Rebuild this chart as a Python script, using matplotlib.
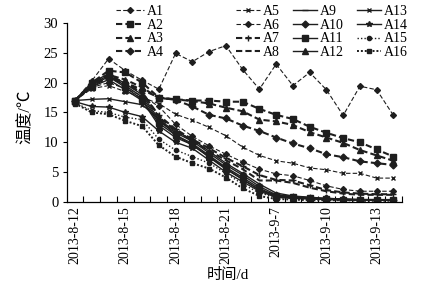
import matplotlib
matplotlib.use('Agg')
import matplotlib.pyplot as plt
import numpy as np

plt.rcParams['font.family'] = ['Liberation Serif', 'Noto Sans CJK SC']
plt.rcParams['axes.unicode_minus'] = False

# dates (categorical x axis)
dates = ['2013-8-12', '2013-8-13', '2013-8-14', '2013-8-15', '2013-8-16', '2013-8-17',
         '2013-8-18', '2013-8-19', '2013-8-20', '2013-8-21', '2013-8-22', '2013-8-23',
         '2013-9-7', '2013-9-8', '2013-9-9', '2013-9-10', '2013-9-11', '2013-9-12',
         '2013-9-13', '2013-9-14']

# temperatures (deg C)
a1 = [17.0, 20.3, 24.0, 22.0, 20.4, 18.9, 24.9, 23.5, 25.2, 26.2, 22.2, 18.9, 23.1, 19.5, 21.7, 18.8, 14.5, 19.4, 18.8, 14.5]
a2 = [17.0, 20.0, 22.0, 21.7, 20.0, 17.5, 17.2, 17.0, 17.0, 16.8, 16.8, 15.6, 14.6, 13.9, 12.6, 11.6, 10.7, 10.0, 8.8, 7.6]
a3 = [17.0, 19.8, 21.3, 20.5, 19.2, 17.4, 17.2, 16.9, 16.5, 15.8, 15.2, 13.8, 13.5, 12.9, 11.7, 10.8, 9.9, 8.7, 7.8, 6.9]
a4 = [17.0, 19.5, 21.0, 20.0, 18.8, 17.5, 17.1, 16.0, 14.6, 14.0, 12.8, 11.9, 10.8, 9.8, 9.0, 8.0, 7.5, 6.8, 6.5, 6.2]
a5 = [17.0, 19.0, 19.5, 18.5, 17.5, 16.5, 14.7, 13.7, 12.5, 11.1, 9.2, 7.8, 6.9, 6.5, 5.7, 5.4, 4.8, 4.8, 4.0, 4.0]
a6 = [17.0, 19.2, 20.0, 19.0, 17.8, 16.0, 13.0, 11.0, 9.4, 8.0, 6.7, 5.5, 4.7, 4.4, 3.6, 2.7, 2.1, 1.8, 1.8, 1.8]
a7 = [17.0, 19.5, 20.8, 19.8, 18.3, 14.5, 12.2, 10.5, 9.0, 7.4, 6.0, 4.5, 3.7, 3.6, 2.8, 2.0, 1.6, 1.4, 1.3, 1.3]
a8 = [17.0, 19.6, 21.0, 20.0, 18.5, 14.2, 12.0, 10.2, 8.6, 7.0, 5.5, 3.6, 3.6, 3.2, 2.4, 1.8, 1.4, 1.2, 1.2, 1.2]
a9 = [17.0, 20.0, 21.5, 19.8, 18.0, 13.8, 11.8, 10.5, 8.5, 6.5, 4.8, 3.0, 1.5, 1.0, 0.8, 0.6, 0.5, 0.4, 0.4, 0.4]
a10 = [17.0, 19.8, 21.2, 19.5, 17.6, 13.5, 11.6, 10.2, 8.2, 6.2, 4.5, 2.6, 1.2, 0.9, 0.7, 0.6, 0.5, 0.4, 0.4, 0.3]
a11 = [17.0, 19.5, 21.0, 19.2, 17.2, 13.2, 11.2, 9.8, 7.8, 5.8, 4.1, 2.3, 1.0, 0.8, 0.6, 0.5, 0.4, 0.3, 0.3, 0.3]
a12 = [17.0, 19.3, 20.5, 18.8, 17.0, 12.8, 10.8, 9.6, 7.5, 5.5, 3.8, 2.0, 0.9, 0.7, 0.6, 0.5, 0.4, 0.3, 0.3, 0.3]
a13 = [17.0, 17.2, 17.3, 16.8, 16.3, 13.9, 11.2, 9.5, 7.6, 5.6, 3.8, 2.0, 1.2, 0.9, 0.7, 0.5, 0.4, 0.4, 0.3, 0.3]
a14 = [16.8, 16.0, 15.9, 15.0, 14.3, 11.9, 10.0, 9.0, 7.0, 5.0, 3.4, 1.8, 0.8, 0.6, 0.5, 0.4, 0.3, 0.3, 0.3, 0.3]
a15 = [16.6, 15.3, 15.0, 14.2, 13.8, 10.5, 8.7, 7.6, 6.5, 4.8, 3.0, 1.5, 0.8, 0.6, 0.5, 0.4, 0.4, 0.3, 0.3, 0.3]
a16 = [16.5, 15.0, 14.7, 13.6, 12.7, 9.5, 7.6, 6.5, 5.6, 4.1, 2.3, 1.0, 0.5, 0.4, 0.3, 0.3, 0.3, 0.2, 0.2, 0.2]

series = [a1, a2, a3, a4, a5, a6, a7, a8, a9, a10, a11, a12, a13, a14, a15, a16]
labels = ['A%d' % (i + 1) for i in range(16)]

# line style, line width, marker, marker size
styles = [
    ((0, (4, 2)), 0.8, 'D', 3.0),
    ((0, (3, 1.5)), 1.5, 's', 4.0),
    ((0, (3, 1.5)), 1.5, '^', 4.5),
    ((0, (3, 1.5)), 1.5, 'D', 3.5),
    ((0, (4, 2)), 0.8, 'x', 3.5),
    ((0, (4, 2)), 0.8, 'D', 3.0),
    ((0, (3, 1.5)), 1.5, '+', 5.0),
    ((0, (3, 1.5)), 1.5, '', 0),
    ('-', 1.0, '_', 4.0),
    ('-', 1.0, 'D', 3.5),
    ('-', 1.0, 's', 4.0),
    ('-', 1.0, '^', 4.5),
    ('-', 1.0, 'x', 3.5),
    ('-', 1.0, '*', 4.0),
    ((0, (1, 1.5)), 1.0, 'o', 3.0),
    ((0, (1, 1)), 1.4, 's', 3.5),
]

fig = plt.figure(figsize=(4.33, 2.94), dpi=100)
ax = fig.add_axes([0.154, 0.313, 0.774, 0.609])

x = np.arange(len(dates))
handles = []
for vals, lab, (ls, lw, mk, ms) in zip(series, labels, styles):
    h, = ax.plot(x, vals, linestyle=ls, linewidth=lw, marker=mk if mk else None,
                 markersize=ms, color='#1e1e1e', markeredgewidth=1.0, label=lab)
    handles.append(h)

ax.set_xlim(-0.5, len(dates) - 0.5)
ax.set_ylim(0, 30)
ax.set_yticks(np.arange(0, 31, 5))
ax.tick_params(axis='y', direction='out', length=3, width=0.8, pad=3, labelsize=10.5)

ax.set_xticks(x[::3])
ax.set_xticklabels(dates[::3], rotation=90, fontsize=10)
ax.tick_params(axis='x', length=0, pad=3)
ax.set_xticks(np.arange(0.5, len(dates), 1.0), minor=True)
ax.tick_params(axis='x', which='minor', direction='in', length=4, width=0.8)

for s in ['top', 'right']:
    ax.spines[s].set_visible(False)
for s in ['left', 'bottom']:
    ax.spines[s].set_linewidth(0.9)

fig.text(26 / 433, 1 - 117 / 294, '温度/℃', rotation=90, ha='center', va='center', fontsize=12)
fig.text(228 / 433, 1 - 275 / 294, '时间/d', ha='center', va='center', fontsize=11)

fig.legend(handles=handles[:4], loc='upper left', bbox_to_anchor=(116 / 433, 1 - 5 / 294),
           frameon=False, fontsize=10, handlelength=2.0, handletextpad=0.2,
           labelspacing=0.05, borderpad=0, borderaxespad=0)
fig.legend(handles=handles[4:], loc='upper left', bbox_to_anchor=(236 / 433, 1 - 5 / 294),
           frameon=False, fontsize=10, ncol=3, handlelength=1.7, handletextpad=0.2,
           labelspacing=0.05, columnspacing=1.0, borderpad=0, borderaxespad=0)

fig.savefig('out.png', dpi=100)
